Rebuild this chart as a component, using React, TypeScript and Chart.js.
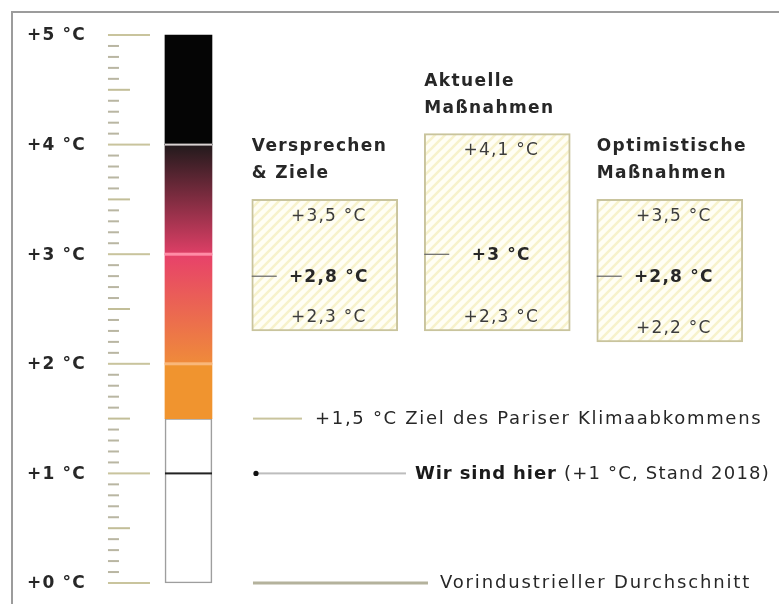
import React, { useEffect, useRef } from 'react';
import { Chart, registerables } from 'chart.js';

Chart.register(...registerables);

// ---------- data ----------
const Y_TICKS = [0, 1, 2, 3, 4, 5];
const MINOR_STEP = 0.1;
const THERMO_BANDS: [number, number][] = [
  [0, 1.5],
  [1.5, 2],
  [2, 3],
  [3, 4],
  [4, 5],
];
const SCENARIO_TITLES = [
  ['Versprechen', '& Ziele'],
  ['Aktuelle', 'Maßnahmen'],
  ['Optimistische', 'Maßnahmen'],
];
const SCEN_HIGH = [3.5, 4.1, 3.5];
const SCEN_MID = [2.8, 3.0, 2.8];
const SCEN_LOW = [2.3, 2.3, 2.2];
const PARIS_GOAL = 1.5;
const CURRENT = 1.0;
const PREINDUSTRIAL = 0;
const PARIS_TEXT = 'Ziel des Pariser Klimaabkommens';
const NOW_BOLD = 'Wir sind hier';
const NOW_YEAR = 'Stand 2018';
const PRE_TEXT = 'Vorindustrieller Durchschnitt';

const fmt = (v: number) => '+' + String(v).replace('.', ',') + ' °C';

// ---------- layout ----------
const THERMO_SLOT = 0.21;
const SCEN_SLOTS = [1, 2, 3];
const FONT = '"DejaVu Sans", sans-serif';
const TEXT = '#272727';
const KHAKI = '#c9c49d';

function makeHatch(): CanvasPattern | string {
  const c = document.createElement('canvas');
  c.width = 10;
  c.height = 10;
  const g = c.getContext('2d');
  if (!g) return '#fffdf0';
  g.fillStyle = '#fffef5';
  g.fillRect(0, 0, 10, 10);
  g.strokeStyle = '#f7f2cc';
  g.lineWidth = 2.6;
  g.beginPath();
  g.moveTo(-5, 5); g.lineTo(5, -5);
  g.moveTo(0, 10); g.lineTo(10, 0);
  g.moveTo(5, 15); g.lineTo(15, 5);
  g.stroke();
  const p = g.createPattern(c, 'repeat');
  return p || '#fffdf0';
}

const overlay = {
  id: 'overlay',
  beforeDraw(chart: any) {
    const { ctx } = chart;
    ctx.save();
    ctx.fillStyle = '#ffffff';
    ctx.fillRect(0, 0, chart.width, chart.height);
    ctx.strokeStyle = '#9c9c9c';
    ctx.lineWidth = 2;
    ctx.strokeRect(12, 12, chart.width + 20, chart.height + 20);
    ctx.restore();
  },
  afterDatasetsDraw(chart: any) {
    const { ctx } = chart;
    const ys = chart.scales.y;
    const Y = (v: number) => ys.getPixelForValue(v);
    const thermo = chart.getDatasetMeta(0).data[0];
    const tL = thermo.x - thermo.width / 2;
    const tR = thermo.x + thermo.width / 2;
    ctx.save();

    // axis tick marks
    const tickRight = tL - 15;
    const tickLeft = tickRight - 42;
    const n = Math.round((Y_TICKS[Y_TICKS.length - 1] - Y_TICKS[0]) / MINOR_STEP);
    for (let i = 0; i <= n; i++) {
      const v = Y_TICKS[0] + i * MINOR_STEP;
      const py = Y(v);
      let len = 11;
      let col = '#b9b6a2';
      if (i % 10 === 0) { len = 42; col = KHAKI; }
      else if (i % 5 === 0) { len = 22; col = '#c2be98'; }
      ctx.fillStyle = col;
      ctx.fillRect(tickLeft, py - 1, len, 2);
    }

    // axis labels
    ctx.fillStyle = TEXT;
    ctx.font = 'bold 17px ' + FONT;
    (ctx as any).letterSpacing = '1.2px';
    ctx.textAlign = 'left';
    ctx.textBaseline = 'middle';
    Y_TICKS.forEach((v) => ctx.fillText(fmt(v), 27, Y(v) + 1));

    // thermometer separators
    const sep = (v: number, c: string, w: number) => {
      ctx.fillStyle = c;
      ctx.fillRect(tL, Y(v) - w / 2, tR - tL, w);
    };
    sep(4, '#d9d2d2', 2);
    sep(3, '#ff8ca6', 3);
    sep(2, '#f9b77a', 3);
    sep(CURRENT, '#222222', 2);

    // scenario boxes: titles, values, mid tick
    const meta = chart.getDatasetMeta(1);
    SCENARIO_TITLES.forEach((lines, i) => {
      const el = meta.data[i];
      const bL = el.x - el.width / 2;
      const top = Y(SCEN_HIGH[i]);
      const bot = Y(SCEN_LOW[i]);
      const cx = el.x + 4;
      ctx.fillStyle = TEXT;
      ctx.textAlign = 'left';
      ctx.textBaseline = 'alphabetic';
      ctx.font = 'bold 17px ' + FONT;
      (ctx as any).letterSpacing = '1.4px';
      ctx.fillText(lines[0], bL, top - 48);
      ctx.fillText(lines[1], bL, top - 21);

      ctx.textAlign = 'center';
      ctx.textBaseline = 'middle';
      (ctx as any).letterSpacing = '1.2px';
      ctx.font = '17px ' + FONT;
      ctx.fillStyle = '#3c3c3c';
      ctx.fillText(fmt(SCEN_HIGH[i]), cx, top + 17);
      ctx.fillText(fmt(SCEN_LOW[i]), cx, bot - 13);
      ctx.font = 'bold 17px ' + FONT;
      ctx.fillStyle = TEXT;
      ctx.fillText(fmt(SCEN_MID[i]), cx, Y(SCEN_MID[i]) + 1);

      ctx.fillStyle = '#666666';
      ctx.fillRect(bL, Y(SCEN_MID[i]) - 0.5, 25, 1.2);
    });

    // reference annotations
    const aL = tR + 41;
    ctx.textAlign = 'left';
    ctx.textBaseline = 'middle';

    // Paris goal
    ctx.fillStyle = KHAKI;
    ctx.fillRect(aL, Y(PARIS_GOAL) - 1, 49, 2);
    ctx.font = '18px ' + FONT;
    (ctx as any).letterSpacing = '1.7px';
    ctx.fillStyle = TEXT;
    ctx.fillText(fmt(PARIS_GOAL) + ' ' + PARIS_TEXT, aL + 62, Y(PARIS_GOAL) + 1);

    // current
    const cy = Y(CURRENT);
    ctx.fillStyle = '#bdbdbd';
    ctx.fillRect(aL + 3, cy - 1, 150, 2);
    ctx.fillStyle = '#111111';
    ctx.beginPath();
    ctx.arc(aL + 3, cy, 2.6, 0, Math.PI * 2);
    ctx.fill();
    ctx.font = 'bold 18px ' + FONT;
    (ctx as any).letterSpacing = '0.9px';
    ctx.fillStyle = '#1a1a1a';
    const tx = aL + 162;
    ctx.fillText(NOW_BOLD, tx, cy + 1);
    const w = ctx.measureText(NOW_BOLD + ' ').width;
    ctx.font = '18px ' + FONT;
    (ctx as any).letterSpacing = '1.2px';
    ctx.fillStyle = TEXT;
    ctx.fillText('(' + fmt(CURRENT) + ', ' + NOW_YEAR + ')', tx + w, cy + 1);

    // pre-industrial
    const py = Y(PREINDUSTRIAL);
    ctx.fillStyle = '#b4b29c';
    ctx.fillRect(aL, py - 1.5, 175, 3);
    (ctx as any).letterSpacing = '1.85px';
    ctx.fillStyle = TEXT;
    ctx.fillText(PRE_TEXT, aL + 187, py);

    ctx.restore();
  },
};

export default function App() {
  const ref = useRef<HTMLCanvasElement | null>(null);

  useEffect(() => {
    if (!ref.current) return;
    const hatch = makeHatch();

    const thermoColor = (ctx: any) => {
      const chart = ctx.chart;
      const i = ctx.dataIndex;
      if (i === 0) return '#ffffff';
      if (i === 1) return '#f0942f';
      if (i === 4) return '#050505';
      const ys = chart.scales.y;
      if (!chart.chartArea || !ys) return i === 2 ? '#ec6a4e' : '#8a2c44';
      const [lo, hi] = THERMO_BANDS[i];
      const g = chart.ctx.createLinearGradient(0, ys.getPixelForValue(hi), 0, ys.getPixelForValue(lo));
      if (i === 2) {
        g.addColorStop(0, '#e7416a');
        g.addColorStop(1, '#ef8b3a');
      } else {
        g.addColorStop(0, '#221a1c');
        g.addColorStop(1, '#de3f66');
      }
      return g;
    };

    const chart = new Chart(ref.current, {
      type: 'bar',
      data: {
        datasets: [
          {
            label: 'Temperatur',
            data: THERMO_BANDS.map((b) => ({ x: THERMO_SLOT, y: b })) as any,
            backgroundColor: thermoColor as any,
            borderColor: '#9e9e9e',
            borderWidth: ((c: any) => (c.dataIndex === 0 ? 1.6 : 0)) as any,
            borderSkipped: false,
            barThickness: 47,
            grouped: false,
            clip: false as any,
          },
          {
            label: 'Szenarien',
            data: SCEN_SLOTS.map((s, i) => ({ x: s, y: [SCEN_LOW[i], SCEN_HIGH[i]] })) as any,
            backgroundColor: hatch as any,
            borderColor: KHAKI,
            borderWidth: 2,
            borderSkipped: false,
            barThickness: 146,
            grouped: false,
            clip: false as any,
          },
        ],
      },
      options: {
        animation: false,
        responsive: true,
        maintainAspectRatio: false,
        layout: { padding: { left: 66, right: 23, top: 35, bottom: 21 } },
        plugins: {
          legend: { display: false },
          tooltip: { enabled: false },
        },
        scales: {
          x: { type: 'linear', min: -0.5, max: 3.5, offset: false, display: false },
          y: { type: 'linear', min: 0, max: 5, display: false },
        },
      },
      plugins: [overlay],
    });
    return () => chart.destroy();
  }, []);

  return (
    <div style={{ position: 'fixed', left: 0, top: 0, width: 779, height: 604, background: '#fff' }}>
      <canvas ref={ref} />
    </div>
  );
}
